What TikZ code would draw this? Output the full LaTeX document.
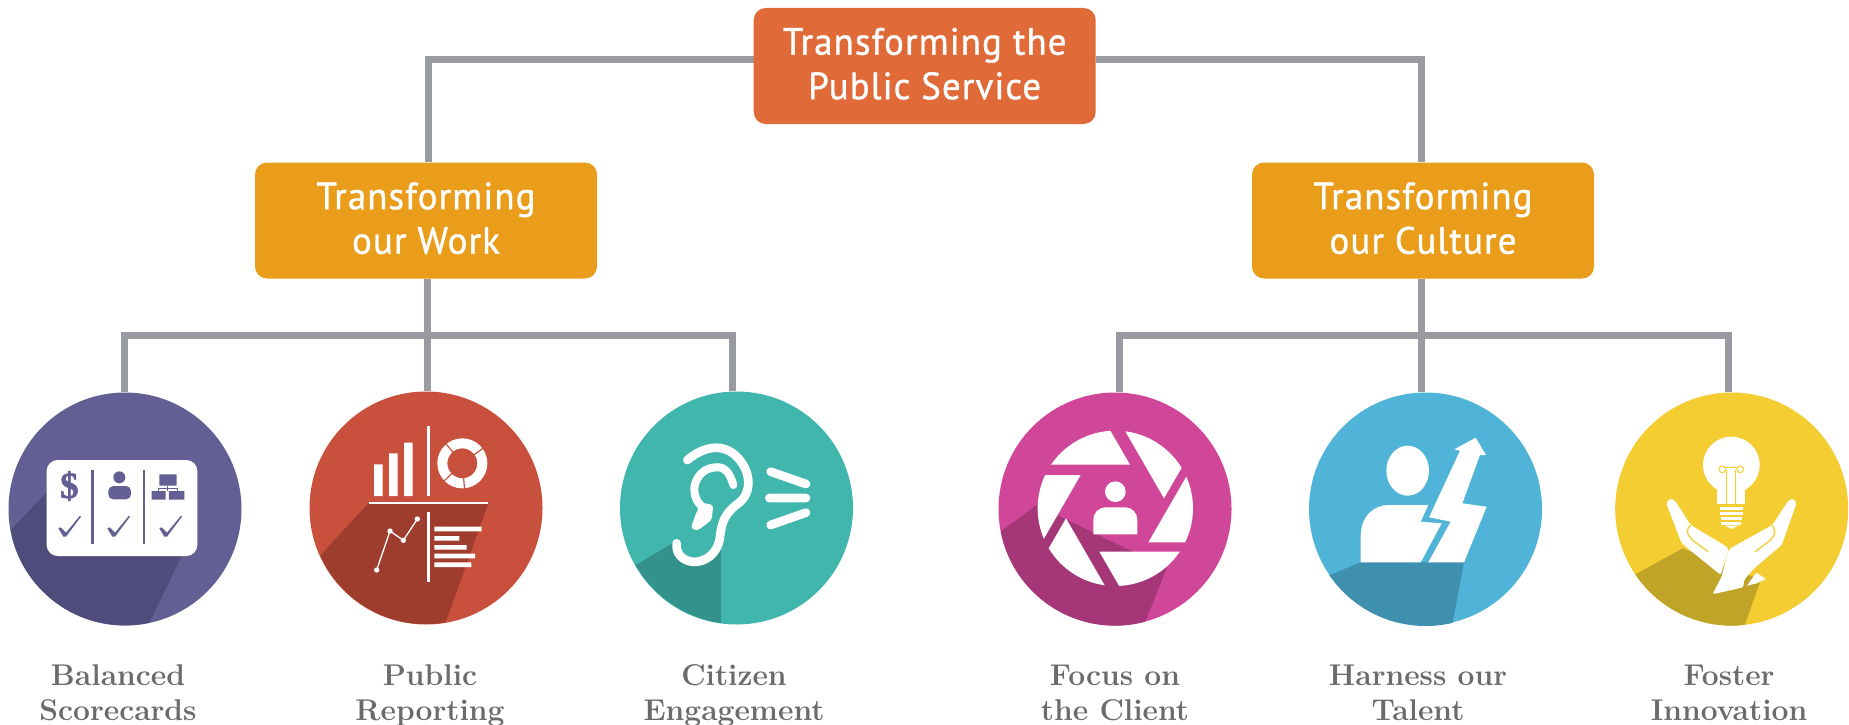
\documentclass[tikz,border=0pt]{standalone}
\usepackage{fontspec}
\usetikzlibrary{backgrounds,calc}
\newfontfamily\headfont[FakeStretch=0.97,FakeBold=1,LetterSpace=3]{PT Sans}
\newfontfamily\dollarfont[FakeBold=1.5]{Liberation Serif}
\definecolor{connc}{HTML}{9A9BA0}
\definecolor{topc}{HTML}{E06B39}
\definecolor{midc}{HTML}{EA9D1A}
\definecolor{labc}{HTML}{6A6B6E}
\definecolor{purp}{HTML}{635F94}\definecolor{purpd}{HTML}{4F4C7B}
\definecolor{redc}{HTML}{C8503C}\definecolor{redd}{HTML}{9E3D2D}
\definecolor{teal}{HTML}{40B6AD}\definecolor{teald}{HTML}{33928B}
\definecolor{pink}{HTML}{D04698}\definecolor{pinkd}{HTML}{A53678}
\definecolor{blue}{HTML}{50B4D8}\definecolor{blued}{HTML}{3F8FAE}
\definecolor{yell}{HTML}{F3CD31}\definecolor{yelld}{HTML}{C0A428}
\tikzset{
  boxbase/.style={rounded corners=12pt,minimum width=342pt,minimum height=116pt,inner sep=0pt,
    text=white,align=center,font=\headfont\fontsize{38}{44.5}\selectfont},
  topbox/.style={boxbase,fill=topc},
  midbox/.style={boxbase,fill=midc},
  conn/.style={draw=connc,line width=7pt,line join=miter},
  disc/.style={circle,inner sep=0pt,minimum size=233pt,fill=#1},
  lab/.style={anchor=base,align=center,text=labc,font=\bfseries\fontsize{30}{35}\selectfont},
  icon/.style={x=0.33333pt,y=-0.33333pt},
}
\begin{document}
\begin{tikzpicture}[x=1pt,y=-1pt]
\useasboundingbox (0,0) rectangle (1849,725);
\node[topbox] (top) at (924.7,66) {\raisebox{5pt}{Transforming the}\\\raisebox{5pt}{Public Service}};
\node[midbox] (work) at (426,220.5) {\raisebox{5pt}{Transforming}\\\raisebox{5pt}{our Work}};
\node[midbox] (culture) at (1423,220.5) {\raisebox{5pt}{Transforming}\\\raisebox{5pt}{our Culture}};
\node[disc=purp] (c1) at (125,509) {};
\node[disc=redc] (c2) at (426,508) {};
\node[disc=teal] (c3) at (736.5,508) {};
\node[disc=pink] (c4) at (1115,509) {};
\node[disc=blue] (c5) at (1425.5,509) {};
\node[disc=yell] (c6) at (1731.7,509) {};
\coordinate (hubw) at (427,335);
\coordinate (hubc) at (1421,335);
\begin{pgfonlayer}{background}
\fill[white] (0,0) rectangle (1849,725);
\draw[conn] ([yshift=6pt]top.west) -| ([xshift=2.5pt]work.north);
\draw[conn] ([yshift=6pt]top.east) -| ([xshift=-2pt]culture.north);
\draw[conn] ([xshift=1pt]work.south) -- (hubw);
\draw[conn] ([xshift=-2pt]culture.south) -- (hubc);
\draw[conn] (hubw) -| ([xshift=-1pt]c1.north);
\draw[conn] (hubw) -- ([xshift=1pt]c2.north);
\draw[conn] (hubw) -| ([xshift=-3.8pt]c3.north);
\draw[conn] (hubc) -| ([xshift=4pt]c4.north);
\draw[conn] (hubc) -- ([xshift=-4.5pt]c5.north);
\draw[conn] (hubc) -| ([xshift=-3.7pt]c6.north);
\end{pgfonlayer}
% ---- icon 1
\begin{scope}[shift={(0,380)},icon]
\begin{scope}
\clip (375,387) circle[radius=349];
\fill[purpd] (0,484)--(137,340)--(300,300)--(560,500)--(545,528)--(447,730)--(420,790)--(0,790)--cycle;
\end{scope}
\fill[white,rounded corners=11pt] (140,240) rectangle (592,528);
\draw[purp,line width=2.6pt] (277,270)--(277,492) (432,270)--(432,492);
\node[text=purp,inner sep=0pt,font=\dollarfont\bfseries\fontsize{37}{37}\selectfont] (dollar) at (208,318) {\$};
\fill[purp] (358,292) circle[radius=18];
\fill[purp,rounded corners=5pt] (325,358)--(325,318)--(393,318)--(393,358)--cycle;
\fill[purp] (478,283) rectangle (530,317) (455,333) rectangle (497,359) (507,333) rectangle (553,359);
\draw[purp,line width=1pt] (476,325)--(532,325) (504,317)--(504,333) (476,325)--(476,333) (532,325)--(532,333);
\foreach \dx in {0,147,303}
  \fill[purp,xshift=\dx*0.33333pt] (175,445)--(182,442)--(198,458)--(240,407)--(243,410)--(198,470)--(190,470)--cycle;
\end{scope}
% ---- icon 2
\begin{scope}[shift={(300,380)},icon]
\begin{scope}
\clip (378,385) circle[radius=347];
\fill[redd] (0,593)--(205,370)--(565,370)--(437,727)--(425,790)--(0,790)--cycle;
\end{scope}
\fill[white] (222,253) rectangle (248,348) (267,220) rectangle (293,348) (312,188) rectangle (338,348);
\draw[white,line width=2.6pt] (386,138)--(386,348) (208,369)--(565,369) (386,395)--(386,607);
\draw[white,line width=10pt] (487,250) circle[radius=60];
\draw[redc,line width=1.2pt] (487,250)++(85:42)--++(85:36) (487,250)++(136:42)--++(136:36) (487,250)++(230:42)--++(230:36) (487,250)++(-36:42)--++(-36:36);
\draw[white,line width=1.3pt] (230,570)--(270,453)--(310,481)--(352,417);
\foreach \p in {(230,570),(270,453),(310,481),(352,417)} \fill[white] \p circle[radius=8];
\fill[white] (403,440) rectangle (545,454) (403,468) rectangle (478,482) (403,495) rectangle (500,509) (403,521) rectangle (525,535) (403,547) rectangle (514,561);
\end{scope}
% ---- icon 3
\begin{scope}[shift={(610,380)},icon]
\begin{scope}
\clip (380,385) circle[radius=347];
\fill[teald] (0,601)--(187,490)--(200,490) .. controls (197,520) and (215,540) .. (245,545) .. controls (285,550) and (325,520) .. (330,490)--(333,490)--(333,790)--(0,790)--cycle;
\end{scope}
\draw[white,line width=8.7pt,line cap=round,line join=round]
  (232,240) .. controls (280,200) and (340,185) .. (385,235)
  .. controls (425,280) and (425,340) .. (385,370)
  .. controls (345,400) and (335,425) .. (330,470)
  .. controls (325,520) and (285,550) .. (245,545)
  .. controls (215,540) and (197,520) .. (200,490);
\draw[white,line width=8pt,line cap=round,line join=round]
  (370,315) .. controls (360,280) and (345,258) .. (315,262)
  .. controls (270,265) and (245,310) .. (255,345)
  .. controls (260,365) and (268,372) .. (278,382);
\fill[white,rounded corners=3pt] (275,368)--(310,375)--(305,420)--(262,452)--(242,445)--(258,400)--cycle;
\draw[white,line width=8.7pt,line cap=round] (482,275)--(588,312) (478,354)--(588,354) (482,435)--(588,398);
\end{scope}
% ---- icon 4
\begin{scope}[shift={(990,380)},icon]
\begin{scope}
\clip (375,388) circle[radius=349];
\fill[pinkd] (0,478)--(140,375)--(530,565)--(467,722)--(440,790)--(0,790)--cycle;
\end{scope}
\begin{scope}
\clip (376,385) circle[radius=233];
\foreach \ax/\ay/\lx/\ly/\sx/\sy in {
  420/254/-1/0/-0.5/-0.866,
  272/285/-0.5/0.866/-1/0,
  228/415/0.5/0.866/-0.5/0.866,
  328/515/1/0/0.5/0.866,
  475/487/0.5/-0.866/1/0,
  522/355/-0.5/-0.866/0.5/-0.866}
  \fill[white] (\ax,\ay)--++({400*\lx},{400*\ly})--++({400*\sx},{400*\sy})--++({-400*\lx},{-400*\ly})--cycle;
\end{scope}
\fill[white] (376,335) circle[radius=31];
\fill[white] (310,463)--(310,422) .. controls (310,397) and (325,382) .. (350,382)--(402,382) .. controls (427,382) and (442,397) .. (442,422)--(442,463)--cycle;
\end{scope}
% ---- icon 5
\begin{scope}[shift={(1300,380)},icon]
\begin{scope}
\clip (377,388) circle[radius=350];
\fill[blued] (0,622)--(182,547)--(492,547)--(458,727)--(445,790)--(0,790)--cycle;
\end{scope}
\fill[white] (323,272) ellipse[x radius=64,y radius=75];
\fill[white] (182,547)--(182,470) .. controls (182,405) and (225,375) .. (265,375)--(385,375)--(362,425)--(425,430)--(362,547)--cycle;
\fill[white] (385,547)--(452,425)--(387,412)--(480,212)--(463,208)--(527,173)--(558,225)--(540,225)--(487,370)--(560,380)--(492,547)--cycle;
\end{scope}
% ---- icon 6
\begin{scope}[shift={(1600,380)},icon]
\begin{scope}
\clip (395,388) circle[radius=349];
\fill[yelld] (0,642)--(248,505)--(482,600)--(435,733)--(410,800)--(0,800)--cycle;
\end{scope}
\fill[white] (394,255) circle[radius=85];
\fill[white] (352,300) rectangle (435,372);
\draw[yell,line width=1pt] (380,372)--(380,270) (407,372)--(407,270) (367,268) circle[radius=10] (421,268) circle[radius=10] (377,262)--(411,262);
\fill[white] (360,381) rectangle (428,391);
\fill[white] (360,396) rectangle (428,405);
\fill[white] (362,411) rectangle (426,420);
\fill[white] (364,425) rectangle (424,435);
\fill[white] (375,437)--(415,437)--(395,447)--cycle;
\fill[white,rounded corners=2.5pt] (198,368)--(212,355)--(225,362)--(272,435)--(380,500)--(385,510)--(362,585)--(245,490)--cycle;
\fill[white,rounded corners=2.5pt] (590,368)--(578,355)--(565,362)--(517,435)--(400,500)--(385,510)--(365,590)--(337,643)--(430,622)--(432,600)--(462,565)--(545,495)--cycle;
\fill[white] (441,617)--(469,578)--(497,597)--(470,610)--cycle;
\draw[yell,line width=1.3pt,rounded corners=4pt] (272,436)--(258,450)--(272,477)--(325,515);
\draw[yell,line width=1.3pt,rounded corners=4pt] (516,436)--(528,452)--(515,478)--(465,515);
\end{scope}
% ---- labels
\node[lab] (l1) at (118,720) {Balanced\\Scorecards};
\node[lab] (l2) at (430,720) {Public\\Reporting};
\node[lab] (l3) at (734,720) {Citizen\\Engagement};
\node[lab] (l4) at (1115,720) {Focus on\\the Client};
\node[lab] (l5) at (1418,720) {Harness our\\Talent};
\node[lab] (l6) at (1729,720) {Foster\\Innovation};
\end{tikzpicture}
\end{document}
